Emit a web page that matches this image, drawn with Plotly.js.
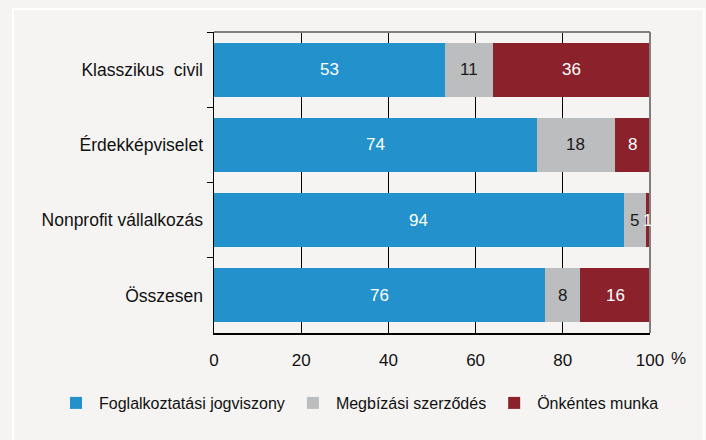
<!DOCTYPE html>
<html>
<head>
<meta charset="utf-8">
<script src="https://cdn.plot.ly/plotly-3.0.1.min.js"></script>
<style>
  html, body { margin: 0; padding: 0; background: #f5f4f2; }
  #chart { width: 706px; height: 440px; }
</style>
</head>
<body>
<div id="chart"></div>
<script>
// Data
const categories = ["Klasszikus\u00a0 civil", "Érdekképviselet", "Nonprofit vállalkozás", "Összesen"];
const seriesNames = ["Foglalkoztatási jogviszony", "Megbízási szerződés", "Önkéntes munka"];
const employment = [53, 74, 94, 76];
const contract = [11, 18, 5, 8];
const volunteer = [36, 8, 1, 16];
const xTickVals = [0, 20, 40, 60, 80, 100];
const xTickText = ["0", "20", "40", "60", "80", "100"];

const FONT = "'Liberation Sans', Arial, sans-serif";
const colors = ["#2391cb", "#bbbdbf", "#8b222b"];
const textColors = ["#ffffff", "#1a1a1a", "#ffffff"];
const values = [employment, contract, volunteer];

const traces = values.map((vals, i) => ({
  type: "bar",
  orientation: "h",
  name: seriesNames[i],
  y: categories,
  x: vals,
  marker: { color: colors[i], line: { width: 0 } },
  hoverinfo: "skip"
}));

const L = 214, R = 56, T = 32, B = 107;
const W = 706 - L - R, H = 440 - T - B;
const px = x => (x - L) / W;
const py = y => (440 - B - y) / H;

// segment value labels, centred on each stacked segment (computed from data)
const annotations = [];
categories.forEach((cat, c) => {
  let start = 0;
  values.forEach((vals, i) => {
    const v = vals[c];
    annotations.push({
      xref: "x", yref: "y", x: start + v / 2, y: cat,
      text: String(v), showarrow: false,
      xanchor: "center", yanchor: "middle",
      font: { family: FONT, size: 17, color: textColors[i] }
    });
    start += v;
  });
});
annotations.push({
  xref: "x", yref: "paper", x: 100, y: py(358), xshift: 19,
  text: "%", showarrow: false, xanchor: "left", yanchor: "middle",
  font: { family: FONT, size: 17, color: "#111111" }
});

const layout = {
  width: 706, height: 440,
  margin: { l: L, r: R, t: T, b: B, pad: 0 },
  paper_bgcolor: "#f5f4f2",
  plot_bgcolor: "#f5f4f2",
  barmode: "stack",
  bargap: 0.28,
  font: { family: FONT, size: 17, color: "#111111" },
  showlegend: true,
  legend: {
    orientation: "h",
    xref: "paper", yref: "paper",
    x: px(53), xanchor: "left",
    y: py(403), yanchor: "middle",
    itemwidth: 36,
    font: { family: FONT, size: 16, color: "#111111" },
    bgcolor: "rgba(0,0,0,0)",
    traceorder: "normal",
    itemclick: false
  },
  xaxis: {
    range: [0, 100],
    tickvals: xTickVals,
    ticktext: xTickText,
    showgrid: true,
    gridcolor: "#000000",
    gridwidth: 1,
    zeroline: false,
    showline: true,
    linecolor: "#000000",
    linewidth: 1.5,
    ticks: "outside",
    ticklen: 0,
    ticklabelstandoff: 11,
    tickfont: { family: FONT, size: 17, color: "#111111" },
    fixedrange: true
  },
  yaxis: {
    type: "category",
    autorange: "reversed",
    showgrid: false,
    zeroline: false,
    showline: true,
    linecolor: "#000000",
    linewidth: 1.5,
    ticks: "outside",
    tickson: "boundaries",
    ticklen: 6,
    tickcolor: "#000000",
    tickwidth: 1,
    ticklabelstandoff: 6,
    tickfont: { family: FONT, size: 17.5, color: "#111111" },
    fixedrange: true
  },
  shapes: [
    { type: "line", xref: "paper", yref: "paper", x0: 0, x1: 1, y0: 1, y1: 1,
      line: { color: "#7f7f7f", width: 2 } },
    { type: "line", xref: "paper", yref: "paper", x0: 1, x1: 1, y0: 0, y1: 1,
      line: { color: "#7f7f7f", width: 2 } },
    { type: "rect", xref: "paper", yref: "paper", layer: "below",
      x0: px(13), x1: px(704), y0: py(448), y1: py(9),
      line: { color: "#ffffff", width: 2 }, fillcolor: "rgba(0,0,0,0)" }
  ],
  annotations: annotations
};

Plotly.newPlot("chart", traces, layout, { displayModeBar: false, staticPlot: true });
</script>
</body>
</html>
